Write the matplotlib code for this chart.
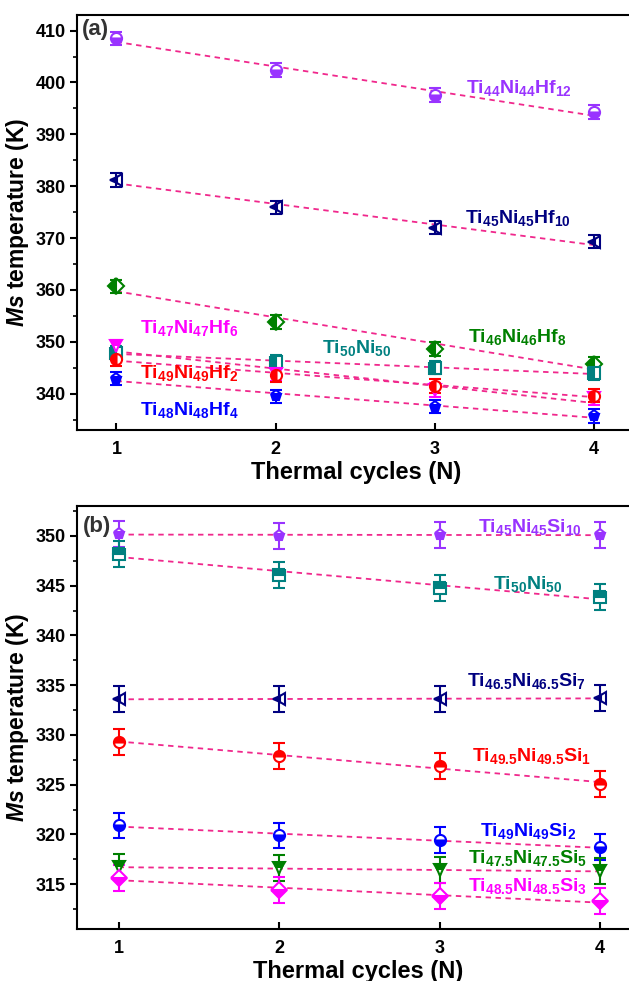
import matplotlib
matplotlib.use('Agg')
import matplotlib.pyplot as plt
import numpy as np

# Arial-like bold text everywhere
plt.rcParams['font.family'] = ['Liberation Sans', 'DejaVu Sans']
plt.rcParams['font.weight'] = 'bold'
plt.rcParams['mathtext.fontset'] = 'custom'
plt.rcParams['mathtext.rm'] = 'Liberation Sans:bold'
plt.rcParams['mathtext.bf'] = 'Liberation Sans:bold'
plt.rcParams['mathtext.it'] = 'Liberation Sans:italic:bold'
plt.rcParams['mathtext.default'] = 'rm'

cycles = [1, 2, 3, 4]

# panel (a): Hf-doped alloys
a_names = ['Ti$_{44}$Ni$_{44}$Hf$_{12}$', 'Ti$_{45}$Ni$_{45}$Hf$_{10}$',
           'Ti$_{46}$Ni$_{46}$Hf$_{8}$', 'Ti$_{50}$Ni$_{50}$',
           'Ti$_{47}$Ni$_{47}$Hf$_{6}$', 'Ti$_{49}$Ni$_{49}$Hf$_{2}$',
           'Ti$_{48}$Ni$_{48}$Hf$_{4}$']
a_ti44 = [408.5, 402.4, 397.6, 394.3]
a_ti45 = [381.2, 375.9, 372.0, 369.3]
a_ti46 = [360.7, 353.8, 348.6, 345.7]
a_ti50 = [347.8, 346.2, 345.0, 343.9]
a_ti47 = [349.1, 343.8, 340.7, 339.1]
a_ti49 = [346.7, 343.6, 341.5, 339.6]
a_ti48 = [342.9, 339.5, 337.5, 335.7]
a_err = 1.3

# panel (b): Si-doped alloys
b_names = ['Ti$_{45}$Ni$_{45}$Si$_{10}$', 'Ti$_{50}$Ni$_{50}$',
           'Ti$_{46.5}$Ni$_{46.5}$Si$_{7}$', 'Ti$_{49.5}$Ni$_{49.5}$Si$_{1}$',
           'Ti$_{49}$Ni$_{49}$Si$_{2}$', 'Ti$_{47.5}$Ni$_{47.5}$Si$_{5}$',
           'Ti$_{48.5}$Ni$_{48.5}$Si$_{3}$']
b_si10 = [350.2, 350.0, 350.1, 350.1]
b_ti50 = [348.2, 346.1, 344.8, 343.9]
b_si7 = [333.6, 333.6, 333.6, 333.7]
b_si1 = [329.3, 327.9, 326.9, 325.1]
b_si2 = [320.9, 319.9, 319.4, 318.7]
b_si5 = [316.7, 316.6, 316.4, 316.3]
b_si3 = [315.6, 314.4, 313.8, 313.3]
b_err = 1.3

fit_color = '#F0288C'
lab_fs = 14

fig = plt.figure(figsize=(6.29, 9.81), dpi=100)
ax1 = fig.add_axes([0.1232, 0.5617, 0.885, 0.423])
ax2 = fig.add_axes([0.1232, 0.0530, 0.893, 0.4312])


def draw(ax, y, err, color, marker, fill):
    # linear fit line first, then the points with error bars
    k, b = np.polyfit(cycles, y, 1)
    xs = np.array([1, 4])
    ax.plot(xs, k * xs + b, '--', color=fit_color, lw=1.3, dashes=(3, 2.5), zorder=2)
    ax.errorbar(cycles, y, yerr=err, fmt=marker, color=color, ms=8, mew=1.5,
                fillstyle=fill, markerfacecoloralt='white', capsize=4.5,
                elinewidth=1.5, capthick=1.5, zorder=3)


# panel (a)
draw(ax1, a_ti44, a_err, '#9933FF', 'o', 'bottom')
draw(ax1, a_ti45, a_err, '#000080', '<', 'left')
draw(ax1, a_ti46, a_err, '#008000', 'D', 'left')
draw(ax1, a_ti50, a_err, '#008080', 's', 'left')
draw(ax1, a_ti47, a_err, '#FF00FF', 'v', 'top')
draw(ax1, a_ti49, a_err, '#FF0000', 'o', 'left')
draw(ax1, a_ti48, a_err, '#0000FF', 'p', 'bottom')

ax1.text(3.2, 399, a_names[0], color='#9933FF', fontsize=lab_fs, va='center')
ax1.text(3.19, 373.9, a_names[1], color='#000080', fontsize=lab_fs, va='center')
ax1.text(3.21, 351, a_names[2], color='#008000', fontsize=lab_fs, va='center')
ax1.text(2.29, 348.8, a_names[3], color='#008080', fontsize=lab_fs, va='center')
ax1.text(1.15, 352.6, a_names[4], color='#FF00FF', fontsize=lab_fs, va='center')
ax1.text(1.15, 344.0, a_names[5], color='#FF0000', fontsize=lab_fs, va='center')
ax1.text(1.15, 336.9, a_names[6], color='#0000FF', fontsize=lab_fs, va='center')
ax1.text(0.785, 410.3, '(a)', color='#333333', fontsize=16, va='center')

ax1.set_xlim(0.755, 4.255)
ax1.set_ylim(333, 413)
ax1.set_yticks([340, 350, 360, 370, 380, 390, 400, 410])
ax1.set_yticks(np.arange(335, 413, 5), minor=True)

# panel (b)
draw(ax2, b_si10, b_err, '#9933FF', 'p', 'bottom')
draw(ax2, b_ti50, b_err, '#008080', 's', 'top')
draw(ax2, b_si7, b_err, '#000080', '<', 'left')
draw(ax2, b_si1, b_err, '#FF0000', 'o', 'top')
draw(ax2, b_si2, b_err, '#0000FF', 'o', 'bottom')
draw(ax2, b_si5, b_err, '#008000', 'v', 'top')
draw(ax2, b_si3, b_err, '#FF00FF', 'D', 'bottom')

ax2.text(3.24, 350.9, b_names[0], color='#9933FF', fontsize=lab_fs, va='center')
ax2.text(3.33, 345.2, b_names[1], color='#008080', fontsize=lab_fs, va='center')
ax2.text(3.17, 335.4, b_names[2], color='#000080', fontsize=lab_fs, va='center')
ax2.text(3.20, 327.9, b_names[3], color='#FF0000', fontsize=lab_fs, va='center')
ax2.text(3.25, 320.3, b_names[4], color='#0000FF', fontsize=lab_fs, va='center')
ax2.text(3.18, 317.6, b_names[5], color='#008000', fontsize=lab_fs, va='center')
ax2.text(3.18, 314.8, b_names[6], color='#FF00FF', fontsize=lab_fs, va='center')
ax2.text(0.775, 350.9, '(b)', color='#333333', fontsize=16, va='center')

ax2.set_xlim(0.744, 4.244)
ax2.set_ylim(310.5, 353)
ax2.set_yticks([315, 320, 325, 330, 335, 340, 345, 350])
ax2.set_yticks(np.arange(312.5, 353, 2.5), minor=True)

for ax in (ax1, ax2):
    ax.set_xticks(cycles)
    ax.set_xlabel('Thermal cycles (N)', fontsize=17, fontweight='bold', labelpad=2)
    ax.set_ylabel(r'$\mathit{Ms}$ temperature (K)', fontsize=16.5, fontweight='bold', labelpad=3)
    ax.tick_params(axis='y', direction='out', length=5, width=1.5, labelsize=13)
    ax.tick_params(axis='y', which='minor', direction='out', length=3, width=1.2)
    ax.tick_params(axis='x', direction='in', length=5, width=1.5, labelsize=13, pad=8)
    for s in ax.spines.values():
        s.set_linewidth(1.5)

fig.savefig('out.png', dpi=100)
